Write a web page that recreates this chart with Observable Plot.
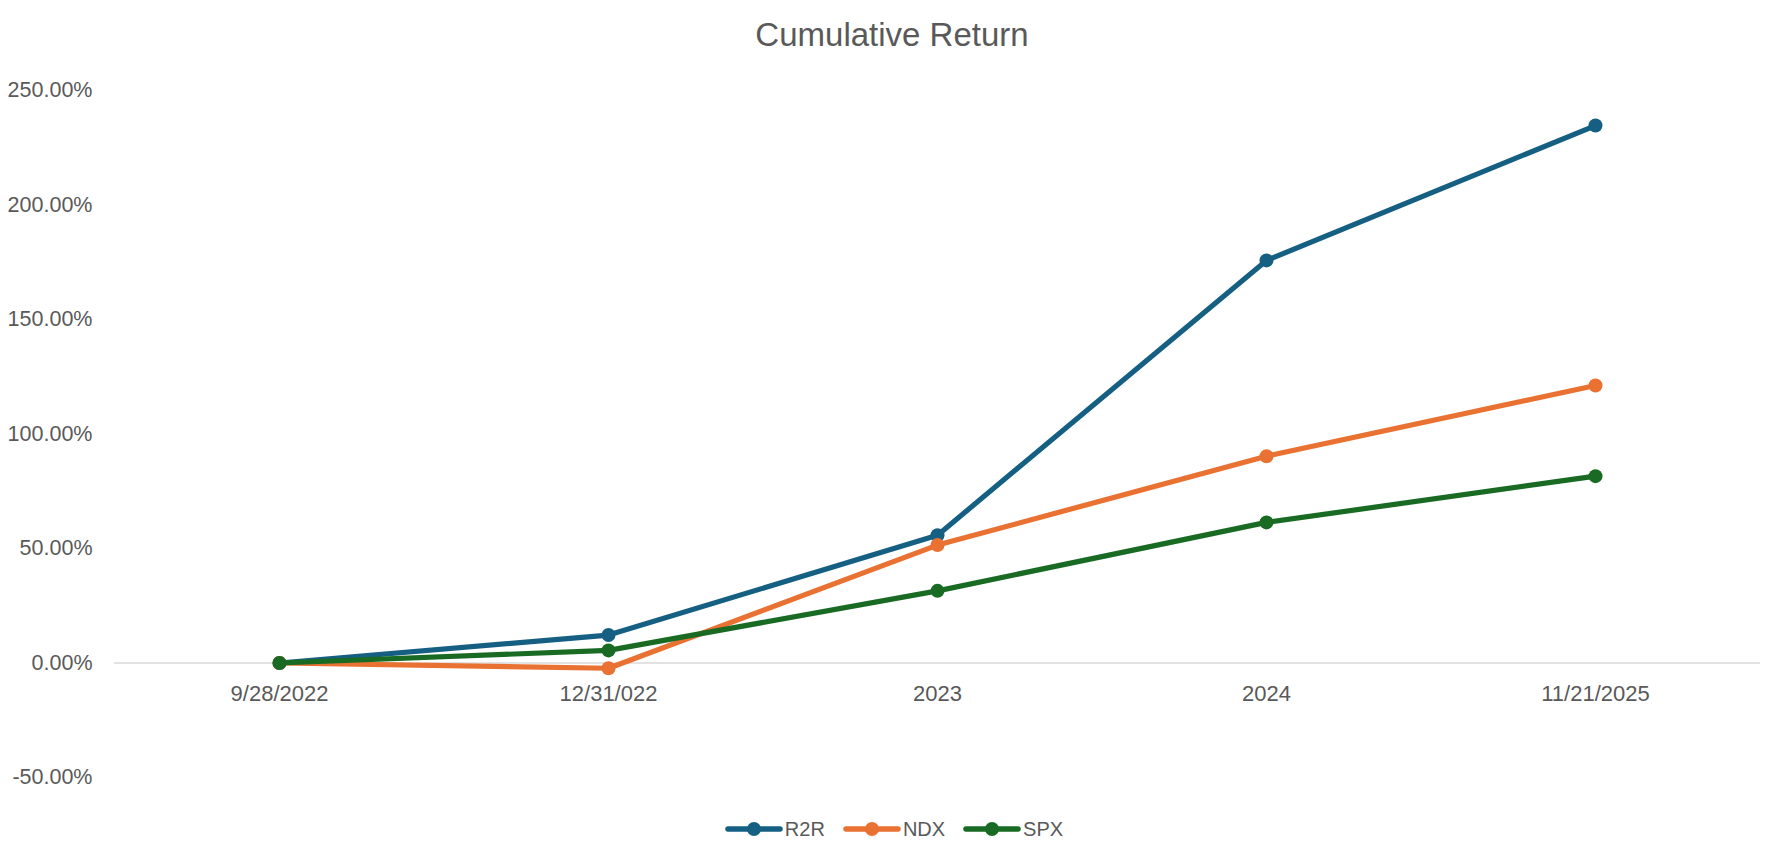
<!DOCTYPE html>
<html>
<head>
<meta charset="utf-8">
<script src="https://cdn.jsdelivr.net/npm/d3@7"></script>
<script src="https://cdn.jsdelivr.net/npm/@observablehq/plot@0.6"></script>
<style>
  html, body { margin: 0; padding: 0; background: #fff; }
  body { width: 1784px; font-family: "Liberation Sans", Arial, sans-serif; color: #595959; }
  #title { height: 68px; line-height: 70px; text-align: center; font-size: 33px; color: #595959; }
  #legend { height: 58px; display: flex; justify-content: center; align-items: center; gap: 18px; padding-left: 4px; }
  .item { display: flex; align-items: center; font-size: 20px; color: #595959; }
  .item svg { margin-right: 2px; }
</style>
</head>
<body>
<div id="title">Cumulative Return</div>
<div id="chart"></div>
<div id="legend"></div>
<script>
// Categories (x axis labels)
const categories = ["9/28/2022", "12/31/022", "2023", "2024", "11/21/2025"];
// Series names and colours
const seriesNames = ["R2R", "NDX", "SPX"];
const seriesColors = ["#156082", "#E97132", "#196B24"];
// Series values (cumulative return, %)
const r2r = [0, 12.2, 55.8, 175.8, 234.7];
const ndx = [0, -2.3, 51.5, 90.3, 121.2];
const spx = [0, 5.5, 31.5, 61.4, 81.6];
// Y tick values
const yTicks = [-50, 0, 50, 100, 150, 200, 250];

const seriesValues = [r2r, ndx, spx];
const rows = seriesNames.map((name, s) =>
  categories.map((c, i) => ({series: name, date: c, value: seriesValues[s][i]}))
);

const marks = [
  Plot.ruleY([0], {stroke: "#d9d9d9", strokeWidth: 1.5}),
  Plot.axisY({ticks: yTicks, tickSize: 0, tickPadding: 22, fontSize: 21.5,
    tickFormat: d => d.toFixed(2) + "%", label: null, color: "#595959"}),
  Plot.text(categories, {x: d => d, y: () => 0, text: d => d, dy: 31,
    fontSize: 22, fill: "#595959"})
];
rows.forEach((data) => {
  marks.push(Plot.line(data, {x: "date", y: "value", stroke: "series",
    strokeWidth: 5.2, strokeLinejoin: "round", strokeLinecap: "round"}));
  marks.push(Plot.dot(data, {x: "date", y: "value", fill: "series", r: 7, stroke: null}));
});

const chart = Plot.plot({
  width: 1784,
  height: 732,
  marginTop: 22,
  marginBottom: 23,
  marginLeft: 114,
  marginRight: 24,
  style: {fontFamily: "'Liberation Sans', Arial, sans-serif", color: "#595959", background: "#fff"},
  x: {type: "point", domain: categories, padding: 0.5, axis: null},
  y: {domain: [-50, 250], axis: null},
  color: {domain: seriesNames, range: seriesColors},
  marks
});
document.getElementById("chart").appendChild(chart);

// Legend
const legend = d3.select("#legend");
seriesNames.forEach((name, i) => {
  const item = legend.append("div").attr("class", "item");
  const svg = item.append("svg").attr("width", 58).attr("height", 18);
  svg.append("line").attr("x1", 3).attr("x2", 55).attr("y1", 9).attr("y2", 9)
    .attr("stroke", seriesColors[i]).attr("stroke-width", 5.5).attr("stroke-linecap", "round");
  svg.append("circle").attr("cx", 29).attr("cy", 9).attr("r", 7).attr("fill", seriesColors[i]);
  item.append("span").text(name);
});
</script>
</body>
</html>
